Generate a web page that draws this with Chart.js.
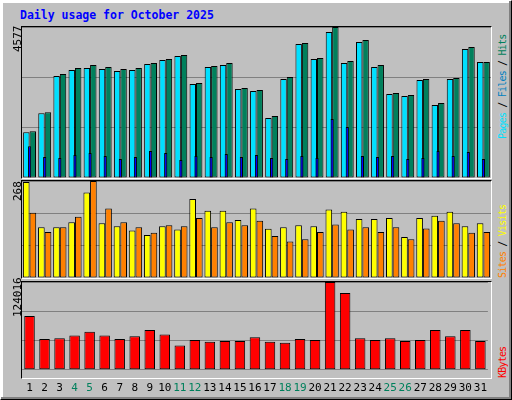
<!DOCTYPE html>
<html><head>
<script src="https://cdn.jsdelivr.net/npm/chart.js@4/dist/chart.umd.min.js"></script>
<style>
body{margin:0;background:#fff}
#wrap{position:relative;width:510px;height:398px;background:#C0C0C0;border-top:1px solid #fff;border-left:1px solid #fff;border-right:1px solid #000;border-bottom:1px solid #000;box-shadow:inset -2px -2px 0 #808080, inset 2px 2px 0 #fff;font-family:"DejaVu Sans Mono",monospace}
.panel{position:absolute;left:20px;width:471px;border-top:1px solid #000;border-left:1px solid #000;border-right:1px solid #fff;border-bottom:1px solid #fff;box-sizing:border-box}
canvas{position:absolute}
.rot{position:absolute;transform:rotate(-90deg);transform-origin:left top;white-space:nowrap;font-size:9px;line-height:10px}
#title{position:absolute;left:19px;top:7px;color:#0000FF;font-weight:bold;font-size:11.5px}
</style></head>
<body><div id="wrap">
<div id="title">Daily usage for October 2025</div>
<div class="panel" style="top:25px;height:153px"></div>
<div class="panel" style="top:179px;height:99px"></div>
<div class="panel" style="top:280px;height:98px"></div>
<canvas id="c1" style="left:21px;top:26px" width="469" height="151"></canvas>
<canvas id="c2" style="left:21px;top:180px" width="469" height="97"></canvas>
<canvas id="c3" style="left:21px;top:281px" width="469" height="117"></canvas>
<div class="rot" style="left:11px;top:51px;color:#000;font-size:11px;line-height:12px">4577</div>
<div class="rot" style="left:11px;top:200px;color:#000;font-size:11px;line-height:12px">268</div>
<div class="rot" style="left:11px;top:316px;color:#000;font-size:11px;line-height:12px">124016</div>
<div class="rot" style="left:496px;top:138px;font-size:10px;line-height:12px;letter-spacing:-0.8px"><span style="color:#00E0FF">Pages</span> / <span style="color:#0080C0">Files</span> / <span style="color:#00805C">Hits</span></div>
<div class="rot" style="left:496px;top:277px;font-size:10px;line-height:12px;letter-spacing:-0.8px"><span style="color:#FF8000">Sites</span> / <span style="color:#FFFF00">Visits</span></div>
<div class="rot" style="left:496px;top:377px;color:#FF0000;font-size:10px;line-height:12px;letter-spacing:-0.8px">KBytes</div>
</div>
<script>
const days = ["1","2","3","4","5","6","7","8","9","10","11","12","13","14","15","16","17","18","19","20","21","22","23","24","25","26","27","28","29","30","31"];
const weekendDays = ["4","5","11","12","18","19","25","26"];
const hitsValues = [1414,1990,3151,3333,3424,3363,3303,3333,3485,3606,3727,2879,3394,3485,2727,2666,1879,3060,4091,3636,4577,3545,4182,3424,2576,2515,3000,2273,3030,3969,3515];
const pagesValues = [1385,1960,3091,3272,3333,3303,3242,3272,3454,3575,3697,2848,3363,3424,2697,2636,1818,3000,4060,3606,4424,3485,4121,3363,2545,2485,2969,2212,3000,3909,3515];
const filesValues = [960,636,606,697,757,667,576,636,818,757,545,667,636,727,636,697,606,576,667,606,1788,1545,667,636,667,576,606,818,667,788,576];
const visitsValues = [265,140,140,154,236,151,143,131,119,143,134,218,186,186,160,192,136,140,146,143,189,183,163,163,166,113,166,172,183,143,151];
const sitesValues = [180,127,140,169,268,192,154,140,125,146,143,166,140,154,146,158,116,101,107,127,148,134,140,127,140,107,137,158,151,125,127];
const kbytesValues = [75880,43360,44660,48560,53770,48560,43360,47260,56370,49860,34250,42060,39460,40760,40760,45960,39460,38160,43360,42060,124016,108400,44660,42060,44660,40760,42060,56370,47260,56370,40760];

function yAxis(max){
  return {min:0,max:max,display:true,border:{display:false},
    ticks:{display:false,stepSize:max/3},grid:{color:'#808080',drawTicks:false}};
}
function opts(max, showX){
  return {responsive:false,animation:false,
    plugins:{legend:{display:false},tooltip:{enabled:false}},
    layout:{padding:0},
    scales:{
      x:{display:showX,offset:true,grid:{display:false},border:{display:false},
        ticks:{font:{family:'DejaVu Sans Mono',size:11},padding:4,maxRotation:0,autoSkip:false,
          color:c=>weekendDays.includes(days[c.index])?'#00805C':'#000'}},
      y:yAxis(max)}};
}
const bar = (data,color,extra)=>Object.assign({data,backgroundColor:color,borderColor:'#000',borderWidth:1,borderSkipped:false},extra);

new Chart(document.getElementById('c1'),{type:'bar',
  data:{labels:days,datasets:[
    bar(filesValues,'#0000FF',{grouped:false,categoryPercentage:0.85,barPercentage:0.25,order:0}),
    bar(hitsValues,'#00805C',{categoryPercentage:0.85,barPercentage:1,order:2}),
    bar(pagesValues,'#00E0FF',{categoryPercentage:0.85,barPercentage:1,order:1})
  ]},
  options:opts(4577,false)});

new Chart(document.getElementById('c2'),{type:'bar',
  data:{labels:days,datasets:[
    bar(visitsValues,'#FFFF00',{categoryPercentage:0.88,barPercentage:1}),
    bar(sitesValues,'#FF8000',{categoryPercentage:0.88,barPercentage:1})
  ]},
  options:opts(268,false)});

new Chart(document.getElementById('c3'),{type:'bar',
  data:{labels:days,datasets:[
    bar(kbytesValues,'#FF0000',{categoryPercentage:0.7,barPercentage:1})
  ]},
  options:opts(124016,true)});
</script>
</body></html>
